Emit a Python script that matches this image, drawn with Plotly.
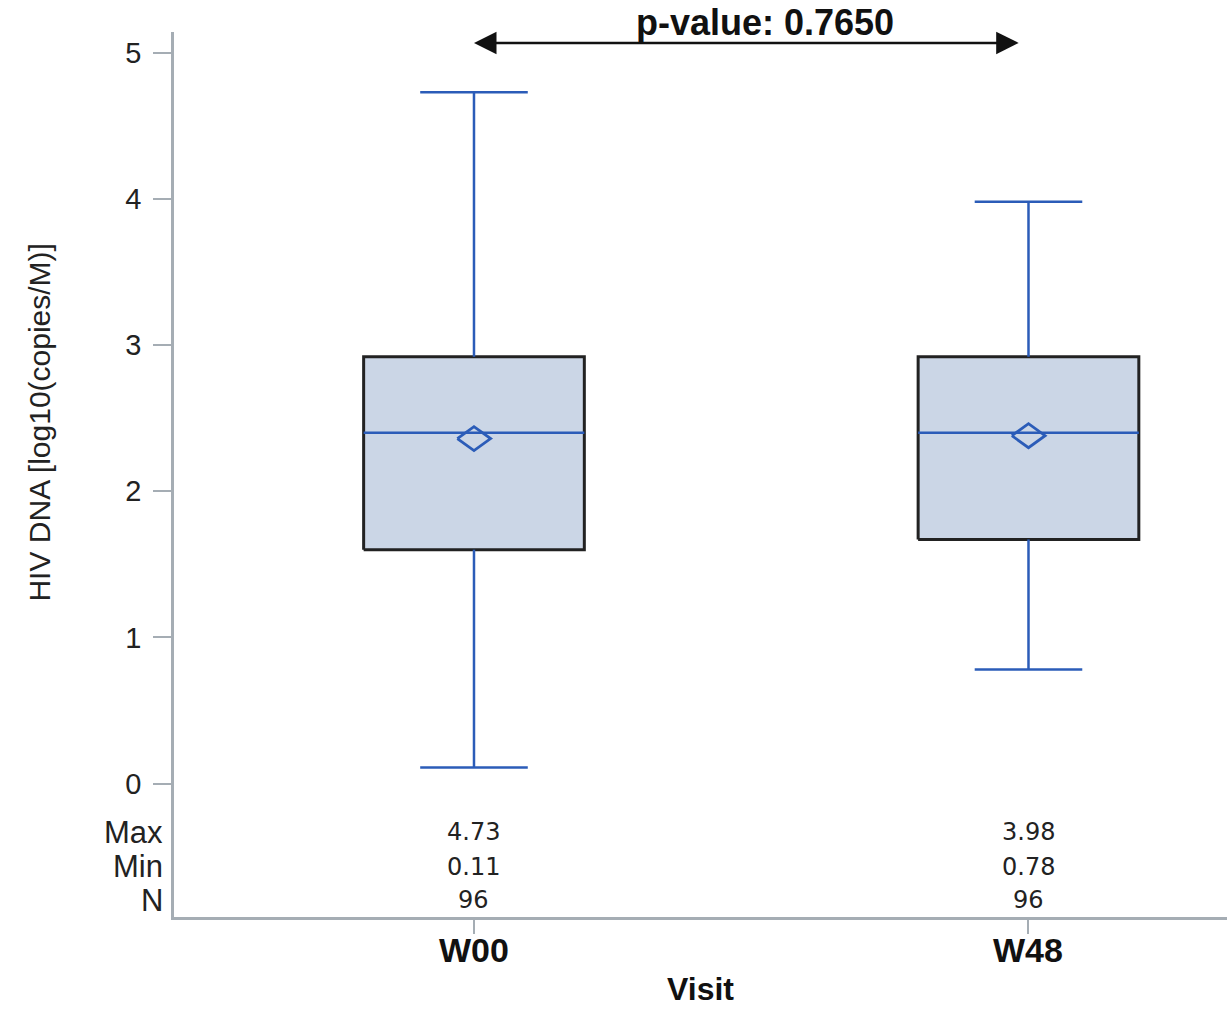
import plotly.graph_objects as go

# ---- data ----
visits = ["W00", "W48"]
q1 = [1.60, 1.67]
median = [2.40, 2.40]
q3 = [2.92, 2.92]
mean = [2.36, 2.38]
vmax = [4.73, 3.98]
vmin = [0.11, 0.78]
n_obs = [96, 96]
p_value_text = "p-value: 0.7650"
y_ticks = [0, 1, 2, 3, 4, 5]

BLUE = "#2b5cb8"
FILL = "#cbd6e6"
AXIS = "#a5adb4"
BOX_HALF = 0.199
CAP_HALF = 0.097
DIA_DX = 0.030
DIA_DY = 0.082
PLOT_H = 885  # px height of plotting area

fig = go.Figure()
xpos = list(range(len(visits)))

for i, x in enumerate(xpos):
    fig.add_trace(go.Scatter(
        x=[x - BOX_HALF, x + BOX_HALF, x + BOX_HALF, x - BOX_HALF, x - BOX_HALF],
        y=[q1[i], q1[i], q3[i], q3[i], q1[i]],
        mode="lines", fill="toself", fillcolor=FILL,
        line=dict(color="#222222", width=3), hoverinfo="skip", showlegend=False))
    fig.add_trace(go.Scatter(
        x=[x, x, None, x, x],
        y=[q3[i], vmax[i], None, q1[i], vmin[i]],
        mode="lines", line=dict(color=BLUE, width=2.5), hoverinfo="skip", showlegend=False))
    fig.add_trace(go.Scatter(
        x=[x - CAP_HALF, x + CAP_HALF, None, x - CAP_HALF, x + CAP_HALF],
        y=[vmax[i], vmax[i], None, vmin[i], vmin[i]],
        mode="lines", line=dict(color=BLUE, width=2.5), hoverinfo="skip", showlegend=False))
    fig.add_trace(go.Scatter(
        x=[x - BOX_HALF, x + BOX_HALF], y=[median[i], median[i]],
        mode="lines", line=dict(color=BLUE, width=2.5), hoverinfo="skip", showlegend=False))
    m = mean[i]
    fig.add_trace(go.Scatter(
        x=[x - DIA_DX, x, x + DIA_DX, x, x - DIA_DX],
        y=[m, m + DIA_DY, m, m - DIA_DY, m],
        mode="lines", line=dict(color=BLUE, width=2.8), hoverinfo="skip", showlegend=False))

# stats table
stat_rows = [("Max", vmax, "{:.2f}", -0.333), ("Min", vmin, "{:.2f}", -0.57), ("N", n_obs, "{}", -0.80)]
for label, vals, fmt, yy in stat_rows:
    fig.add_annotation(x=0, xref="paper", y=yy, yref="y", text=label, showarrow=False,
                       xanchor="right", xshift=-9,
                       font=dict(family="Liberation Sans, Arial", size=31, color="#222222"))
    for i, x in enumerate(xpos):
        fig.add_annotation(x=x, y=yy, text=fmt.format(vals[i]), showarrow=False,
                           font=dict(family="DejaVu Sans, Verdana", size=24, color="#222222"))

# x tick labels and axis title (placed below the axis)
for i, x in enumerate(xpos):
    fig.add_annotation(x=x, xref="x", y=-(950 - 917) / PLOT_H, yref="paper",
                       text="<b>%s</b>" % visits[i], showarrow=False, yanchor="middle",
                       font=dict(family="Liberation Sans, Arial", size=34, color="#111111"))
fig.add_annotation(x=(700 - 174) / 1053, xref="paper", y=-(989 - 917) / PLOT_H, yref="paper",
                   text="<b>Visit</b>", showarrow=False, yanchor="middle", borderpad=0,
                   font=dict(family="Liberation Sans, Arial", size=32, color="#111111"))

# p-value arrow
fig.add_annotation(x=0, y=5.067, ax=0.985, ay=5.067, xref="x", yref="y", axref="x", ayref="y",
                   text="", showarrow=True, arrowside="end+start", arrowhead=2, arrowsize=1.8,
                   arrowwidth=2.5, arrowcolor="#111111", standoff=0, startstandoff=0)
fig.add_annotation(x=(765 - 174) / 1053, xref="paper", y=1 + (32 - 22) / PLOT_H, yref="paper",
                   text="<b>" + p_value_text + "</b>", showarrow=False, yanchor="middle",
                   font=dict(family="Liberation Sans, Arial", size=36, color="#111111"))

# y-axis title
fig.add_annotation(x=(40 - 174) / 1053, xref="paper", y=2.47, yref="y",
                   text="HIV DNA [log10(copies/M)]", textangle=-90, showarrow=False,
                   xanchor="center", yanchor="middle",
                   font=dict(family="Liberation Sans, Arial", size=30, color="#222222"))

fig.update_layout(
    width=1227, height=1011,
    margin=dict(l=174, r=0, t=32, b=94),
    plot_bgcolor="white", paper_bgcolor="white",
    showlegend=False,
    xaxis=dict(range=[-0.541, 1.358], tickvals=xpos, showticklabels=False,
               showline=True, linecolor=AXIS, linewidth=2.5, ticks="outside", ticklen=14,
               tickcolor=AXIS, tickwidth=2, showgrid=False, zeroline=False),
    yaxis=dict(range=[-0.913, 5.142], tickvals=y_ticks,
               showline=True, linecolor=AXIS, linewidth=2.5, ticks="outside", ticklen=18,
               tickcolor=AXIS, tickwidth=2, showgrid=False, zeroline=False,
               ticklabelstandoff=6,
               tickfont=dict(family="Liberation Sans, Arial", size=29, color="#222222")),
)

fig.write_html("out.html")
